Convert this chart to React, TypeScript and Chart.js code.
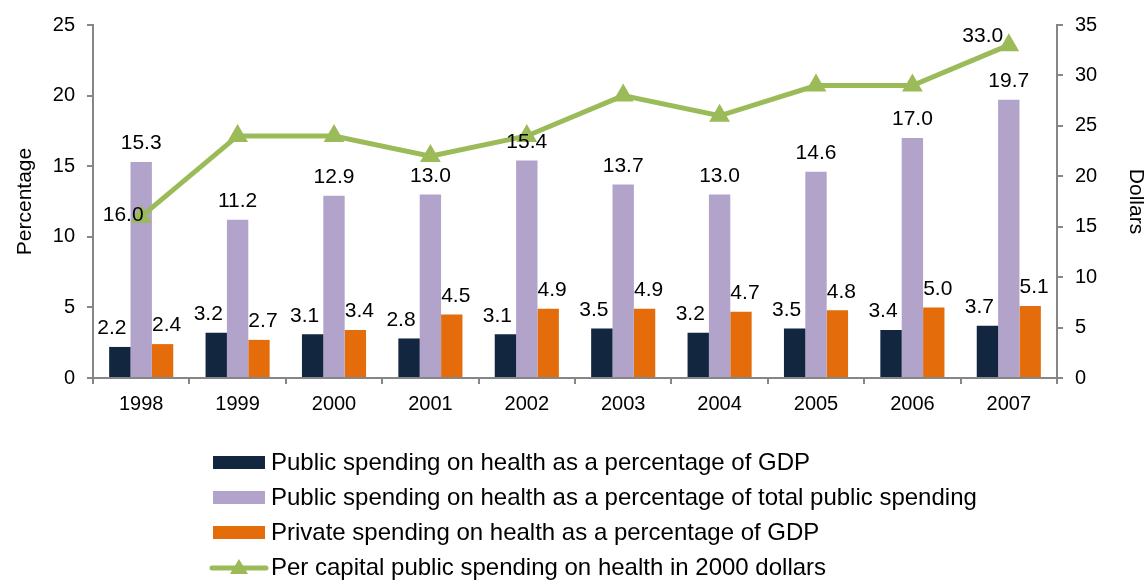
import React, { useEffect, useRef } from "react";
import { Chart, registerables } from "chart.js";

Chart.register(...registerables);

const years = ["1998", "1999", "2000", "2001", "2002", "2003", "2004", "2005", "2006", "2007"];
const publicGdp = [2.2, 3.2, 3.1, 2.8, 3.1, 3.5, 3.2, 3.5, 3.4, 3.7];
const publicTotal = [15.3, 11.2, 12.9, 13.0, 15.4, 13.7, 13.0, 14.6, 17.0, 19.7];
const privateGdp = [2.4, 2.7, 3.4, 4.5, 4.9, 4.9, 4.7, 4.8, 5.0, 5.1];
const perCapita = [16, 24, 24, 22, 24, 28, 26, 29, 29, 33];
const lineLabelIndices = [0, 9];

const seriesLabels = [
  "Public spending on health as a percentage of GDP",
  "Public spending on health as a percentage of total public spending",
  "Private spending on health as a percentage of GDP",
  "Per capital public spending on health in 2000 dollars",
];

const NAVY = "#13263F";
const LAVENDER = "#B1A3C9";
const ORANGE = "#E46C0A";
const GREEN = "#9BBB59";
const AXIS = "#868686";
const FONT = "'Liberation Sans', Arial, sans-serif";

const valueLabels = {
  id: "valueLabels",
  afterDatasetsDraw(chart: any) {
    const ctx = chart.ctx;
    ctx.save();
    ctx.font = `21px ${FONT}`;
    ctx.fillStyle = "#000";
    ctx.textAlign = "center";
    const barDx = [-8, 0, 4];
    chart.data.datasets.forEach((ds: any, di: number) => {
      const meta = chart.getDatasetMeta(di);
      if (ds.type === "line") {
        const offsets: Record<number, [number, number]> = { 0: [-18, -1], 9: [-26, -9] };
        ctx.textBaseline = "middle";
        lineLabelIndices.forEach((i) => {
          const el = meta.data[i];
          const [dx, dy] = offsets[i] || [0, -14];
          ctx.fillText(Number(ds.data[i]).toFixed(1), el.x + dx, el.y + dy);
        });
      } else {
        ctx.textBaseline = "bottom";
        meta.data.forEach((el: any, i: number) => {
          ctx.fillText(Number(ds.data[i]).toFixed(1), el.x + (barDx[di] || 0), el.y - 8);
        });
      }
    });
    ctx.restore();
  },
};

const customLegend = {
  id: "customLegend",
  afterDraw(chart: any) {
    const ctx = chart.ctx;
    ctx.save();
    ctx.font = `24px ${FONT}`;
    ctx.textBaseline = "middle";
    ctx.textAlign = "left";
    const x0 = 213;
    const y0 = 463;
    const step = 35;
    chart.data.datasets.forEach((ds: any, k: number) => {
      const y = y0 + k * step;
      if (ds.type === "line") {
        ctx.strokeStyle = ds.borderColor;
        ctx.lineWidth = 5;
        ctx.lineCap = "round";
        ctx.beginPath();
        ctx.moveTo(x0 - 1, y);
        ctx.lineTo(x0 + 53, y);
        ctx.stroke();
        ctx.fillStyle = ds.borderColor;
        ctx.beginPath();
        const cx = x0 + 26;
        ctx.moveTo(cx, y - 9);
        ctx.lineTo(cx + 9, y + 6);
        ctx.lineTo(cx - 9, y + 6);
        ctx.closePath();
        ctx.fill();
      } else {
        ctx.fillStyle = ds.backgroundColor;
        ctx.fillRect(x0, y - 7, 52, 13);
      }
      ctx.fillStyle = "#000";
      ctx.fillText(ds.label, x0 + 58, y);
    });
    ctx.restore();
  },
};

export default function App() {
  const ref = useRef<HTMLCanvasElement | null>(null);

  useEffect(() => {
    if (!ref.current) return;
    Chart.defaults.font.family = FONT;
    Chart.defaults.font.size = 20;
    Chart.defaults.color = "#000";
    const chart = new Chart(ref.current, {
      type: "bar",
      data: {
        labels: years,
        datasets: [
          { type: "bar", label: seriesLabels[0], data: publicGdp, backgroundColor: NAVY, yAxisID: "y", order: 1 },
          { type: "bar", label: seriesLabels[1], data: publicTotal, backgroundColor: LAVENDER, yAxisID: "y", order: 1 },
          { type: "bar", label: seriesLabels[2], data: privateGdp, backgroundColor: ORANGE, yAxisID: "y", order: 1 },
          {
            type: "line",
            label: seriesLabels[3],
            data: perCapita,
            borderColor: GREEN,
            backgroundColor: GREEN,
            borderWidth: 5,
            pointStyle: "triangle",
            pointRadius: 12,
            pointBorderWidth: 0,
            pointBackgroundColor: GREEN,
            yAxisID: "y1",
            order: 0,
            tension: 0,
          } as any,
        ],
      },
      options: {
        responsive: false,
        animation: false,
        layout: { padding: { top: 25, bottom: 153, left: 0, right: 0 } },
        datasets: { bar: { categoryPercentage: 0.665, barPercentage: 1.0 } } as any,
        plugins: { legend: { display: false }, tooltip: { enabled: false } },
        scales: {
          x: {
            grid: { drawOnChartArea: false, drawTicks: true, tickLength: 6, color: AXIS, lineWidth: 2, offset: true },
            border: { color: AXIS, width: 2 },
            ticks: { padding: 8, color: "#000", font: { size: 20 } },
            afterFit: (s: any) => { s.height = 50; },
          },
          y: {
            position: "left",
            min: 0,
            max: 25,
            ticks: { stepSize: 5, padding: 12, color: "#000", font: { size: 20 } },
            grid: { drawOnChartArea: false, drawTicks: true, tickLength: 6, color: AXIS, lineWidth: 2 },
            border: { color: AXIS, width: 2 },
            title: { display: true, text: "Percentage", color: "#000", font: { size: 21 }, padding: { top: 13, bottom: 0 } },
            afterFit: (s: any) => { s.width = 93; },
          },
          y1: {
            position: "right",
            min: 0,
            max: 35,
            ticks: { stepSize: 5, padding: 12, color: "#000", font: { size: 20 } },
            grid: { drawOnChartArea: false, drawTicks: true, tickLength: 6, color: AXIS, lineWidth: 2 },
            border: { color: AXIS, width: 2 },
            title: { display: true, text: "Dollars", color: "#000", font: { size: 21, lineHeight: 0.8 }, padding: { top: 0, bottom: 0 } },
            afterFit: (s: any) => { s.width = 87; },
          },
        },
      } as any,
      plugins: [valueLabels, customLegend],
    });
    return () => chart.destroy();
  }, []);

  return (
    <div style={{ position: "absolute", left: 0, top: 0, width: 1144, height: 581, background: "#fff" }}>
      <canvas ref={ref} width={1144} height={581} />
    </div>
  );
}
